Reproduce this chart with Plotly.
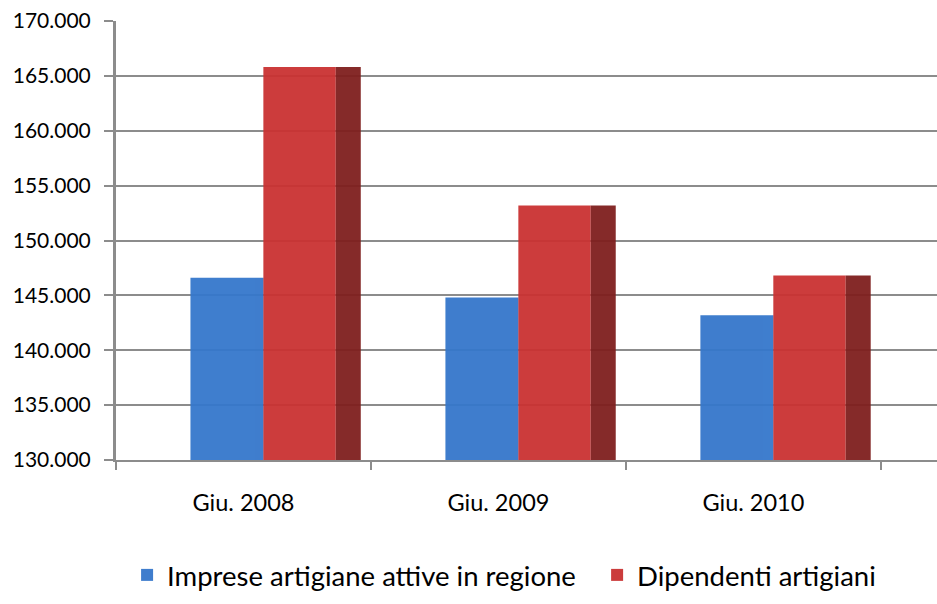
import plotly.graph_objects as go

# Data
periods = ["Giu. 2008", "Giu. 2009", "Giu. 2010"]
imprese = [146600, 144800, 143200]
dipendenti = [165800, 153200, 146800]
series_names = ["Imprese artigiane attive in regione", "Dipendenti artigiani"]

x = list(range(len(periods)))

FONT = "Lato"
GRID = "#8c8c8c"

fig = go.Figure()

# Front faces of the columns
fig.add_trace(go.Bar(
    x=x, y=imprese, name=series_names[0],
    offset=-0.208, width=0.287,
    marker=dict(color="#3577cb", line=dict(width=0)),
    opacity=0.95, legend="legend",
))
fig.add_trace(go.Bar(
    x=x, y=dipendenti, name=series_names[1],
    offset=0.078, width=0.284,
    marker=dict(color="#c93232", line=dict(width=0)),
    opacity=0.95, legend="legend2",
))
# Shaded side face of the red columns (depth effect)
fig.add_trace(go.Bar(
    x=x, y=dipendenti, name=series_names[1],
    offset=0.362, width=0.098,
    marker=dict(color="#7e1f1e", line=dict(width=0)),
    opacity=0.95, showlegend=False, hoverinfo="skip",
))

legend_style = dict(
    orientation="h", xanchor="left", y=-0.262, yanchor="middle",
    font=dict(family=FONT, size=27.5, color="#000000"),
    bgcolor="rgba(0,0,0,0)",
)

fig.update_layout(
    width=937, height=604,
    margin=dict(l=116, r=0, t=21, b=144, autoexpand=False),
    paper_bgcolor="white", plot_bgcolor="white",
    separators=",.",
    barmode="overlay",
    font=dict(family=FONT, size=20, color="#000000"),
    showlegend=True,
    legend=dict(x=0.0135, **legend_style),
    legend2=dict(x=0.586, **legend_style),
)

fig.update_xaxes(
    range=[-0.5, 2.72],
    tickvals=x, ticktext=periods, ticks="",
    showgrid=False, zeroline=False,
    showline=True, linecolor=GRID, linewidth=2,
    tickfont=dict(family=FONT, size=23.5),
    ticklabelstandoff=21,
    minor=dict(ticks="outside", tick0=-0.5, dtick=1, ticklen=8,
               tickcolor=GRID, tickwidth=2, showgrid=False),
)
fig.update_yaxes(
    range=[130000, 170000],
    tickvals=list(range(130000, 170001, 5000)),
    tickformat=",d",
    showgrid=True, gridcolor=GRID, gridwidth=2,
    zeroline=False,
    showline=True, linecolor=GRID, linewidth=3,
    ticks="outside", ticklen=9, tickcolor=GRID, tickwidth=2,
    tickfont=dict(family=FONT, size=21),
    ticklabelstandoff=9,
)

fig.write_html("out.html")
